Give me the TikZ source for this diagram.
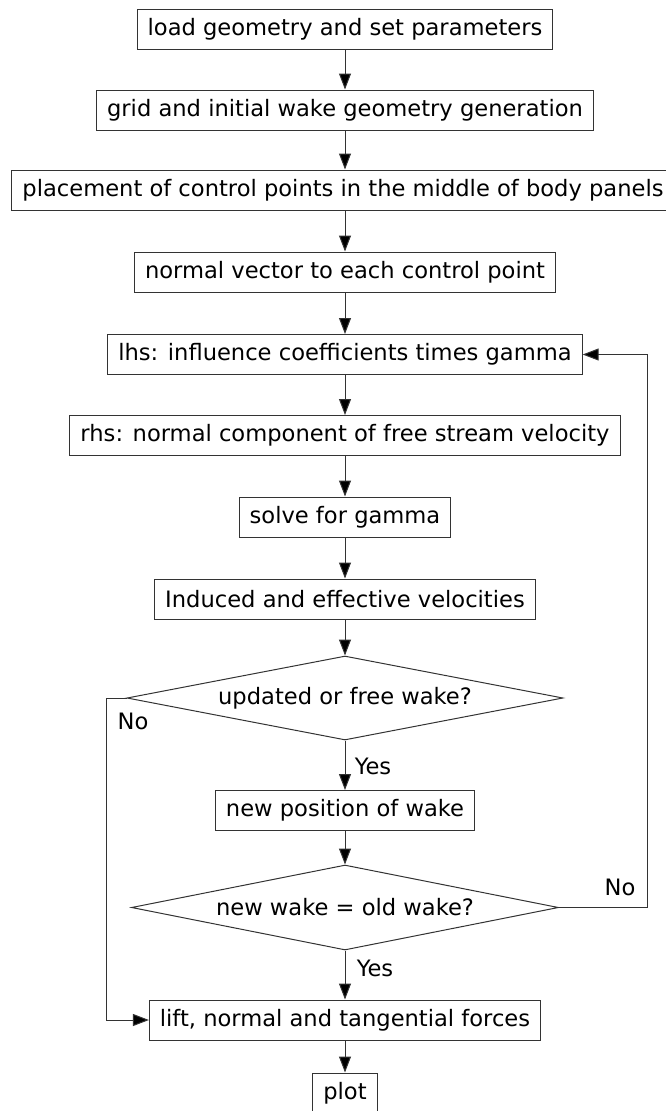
\documentclass[tikz,border=0pt]{standalone}
\usepackage{fontspec}
\setmainfont{DejaVu Sans}
\usetikzlibrary{shapes.geometric,arrows.meta}
\begin{document}
\begin{tikzpicture}[x=1pt,y=-1pt,
  every node/.style={font=\fontsize{22.6}{27}\selectfont, text=black},
  box/.style={draw=black!80, line width=1pt, rectangle, minimum height=40pt, inner xsep=10.5pt, inner ysep=0pt},
  dia/.style={draw=black!80, line width=1pt, diamond, aspect=5.2, inner sep=0pt},
  arr/.style={draw=black!80, line width=1pt, -{Triangle[length=16pt,width=12pt,fill=black]}},
  lbl/.style={inner sep=0pt}]
\useasboundingbox (0,0) rectangle (665,1111);
\node[box] (b1) at (345,29.5) {load geometry and set parameters};
\node[box] (b2) at (345,110) {grid and initial wake geometry generation};
\node[box] (b3) at (343,190) {placement of control points in the middle of body panels};
\node[box] (b4) at (345,272) {normal vector to each control point};
\node[box] (b5) at (345,354.5) {lhs: influence coefficients times gamma};
\node[box] (b6) at (345,435.5) {rhs: normal component of free stream velocity};
\node[box] (b7) at (345,517) {solve for gamma};
\node[box] (b8) at (345,599) {Induced and effective velocities};
\node[dia, minimum width=436pt, minimum height=84pt] (d1) at (345,698) {updated or free wake?};
\node[box] (b9) at (345,810.5) {new position of wake};
\node[dia, minimum width=427pt, minimum height=85pt] (d2) at (345,907.5) {new wake = old wake?};
\node[box] (b10) at (345,1020) {lift, normal and tangential forces};
\node[box] (b11) at (345,1093) {plot};
\coordinate (lc) at (106,0);
\coordinate (rc) at (647,0);
\draw[arr] (b1) -- (b2);
\draw[arr] (b2) -- (b3.north -| b2.south);
\draw[arr] (b3.south -| b4.north) -- (b4);
\draw[arr] (b4) -- (b5);
\draw[arr] (b5) -- (b6);
\draw[arr] (b6) -- (b7);
\draw[arr] (b7) -- (b8);
\draw[arr] (b8) -- (d1);
\draw[arr] (d1.south) -- (b9);
\draw[arr] (b9) -- (d2.north);
\draw[arr] (d2.south) -- (b10);
\draw[arr] (b10) -- (b11);
\draw[arr] (d1.west) -- (d1.west -| lc) |- (b10.west);
\draw[arr] (d2.east) -- (d2.east -| rc) |- (b5.east);
\node[lbl] (y1) at (373,766) {Yes};
\node[lbl] (y2) at (375,968) {Yes};
\node[lbl] (n1) at (133,721) {No};
\node[lbl] (n2) at (620,887) {No};
\end{tikzpicture}
\end{document}
